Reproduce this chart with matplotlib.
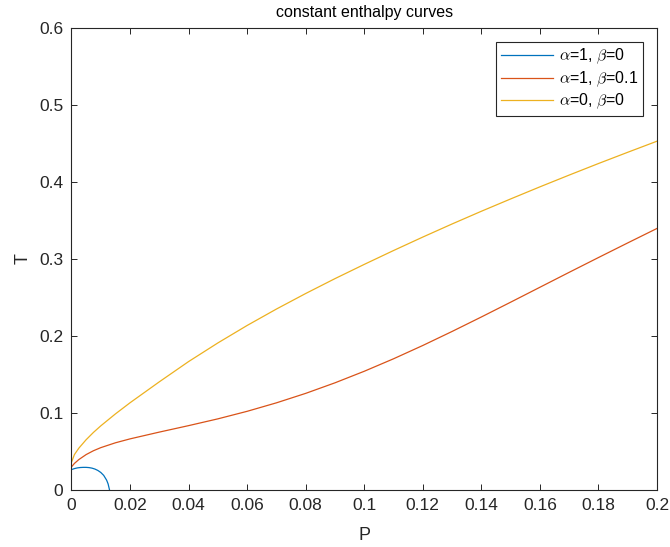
import numpy as np
import matplotlib
matplotlib.use('Agg')
import matplotlib.pyplot as plt

plt.rcParams['font.family'] = ['Liberation Sans', 'DejaVu Sans']
plt.rcParams['mathtext.fontset'] = 'cm'

# --- data ---
p_blue = [0, 0.001, 0.002, 0.003, 0.004, 0.005, 0.006, 0.007, 0.008,
          0.009, 0.010, 0.011, 0.012, 0.0125, 0.013]
t_blue = [0.0265, 0.0278, 0.0287, 0.0292, 0.0294, 0.0294, 0.0291, 0.0284, 0.0272,
          0.0254, 0.0228, 0.0190, 0.0128, 0.0080, 0.0]

p_curve = [0, 0.001, 0.0025, 0.005, 0.0075, 0.01, 0.015, 0.02, 0.03, 0.04, 0.05,
           0.06, 0.07, 0.08, 0.09, 0.10, 0.11, 0.12, 0.13, 0.14, 0.15,
           0.16, 0.17, 0.18, 0.19, 0.20]
t_orange = [0.030, 0.0345, 0.0395, 0.046, 0.051, 0.055, 0.0613, 0.0664, 0.0752, 0.0836, 0.0924,
            0.1022, 0.1132, 0.1255, 0.1392, 0.1542, 0.1704, 0.1877, 0.2059, 0.2247, 0.2439,
            0.2633, 0.2827, 0.3019, 0.3209, 0.3397]
t_yellow = [0.036, 0.046, 0.0543, 0.0653, 0.0748, 0.0833, 0.0988, 0.1133, 0.1405, 0.1668, 0.1910,
            0.2137, 0.2350, 0.2552, 0.2745, 0.2930, 0.3110, 0.3285, 0.3455, 0.3620, 0.3780,
            0.3937, 0.4090, 0.4240, 0.4386, 0.4530]

labels = [r'$\alpha$=1, $\beta$=0', r'$\alpha$=1, $\beta$=0.1', r'$\alpha$=0, $\beta$=0']

fig = plt.figure(figsize=(6.7, 5.47), dpi=100)
ax = fig.add_axes([0.1067, 0.1042, 0.8739, 0.8446])

ax.plot(p_blue, t_blue, color='#0072BD', linewidth=0.9, label=labels[0])
ax.plot(p_curve, t_orange, color='#D95319', linewidth=0.9, label=labels[1])
ax.plot(p_curve, t_yellow, color='#EDB120', linewidth=0.9, label=labels[2])

ax.set_xlim(0, 0.2)
ax.set_ylim(0, 0.6)
ax.set_xticks(np.arange(0, 0.201, 0.02))
ax.set_xticklabels(['0', '0.02', '0.04', '0.06', '0.08', '0.1', '0.12', '0.14', '0.16', '0.18', '0.2'])
ax.set_yticks(np.arange(0, 0.61, 0.1))
ax.set_yticklabels(['0', '0.1', '0.2', '0.3', '0.4', '0.5', '0.6'])
ax.tick_params(direction='in', length=4.5, width=0.7, top=True, right=True,
               labelsize=12.5, colors='#262626', pad=6)
for s in ax.spines.values():
    s.set_color('#262626')
    s.set_linewidth(0.8)

ax.set_xlabel('P', fontsize=13, color='#262626', labelpad=10)
ax.set_ylabel('T', fontsize=13, color='#262626', labelpad=5)
ax.set_title('constant enthalpy curves', fontsize=11.5, color='#000000', pad=8)

leg = ax.legend(loc='upper right', bbox_to_anchor=(0.9756, 0.969), borderaxespad=0,
                fontsize=11.5, handlelength=3.3, fancybox=False, framealpha=1,
                edgecolor='#262626', labelspacing=0.2, borderpad=0.28, handletextpad=0.35)
leg.get_frame().set_linewidth(0.8)

fig.savefig('out.png', dpi=100)
